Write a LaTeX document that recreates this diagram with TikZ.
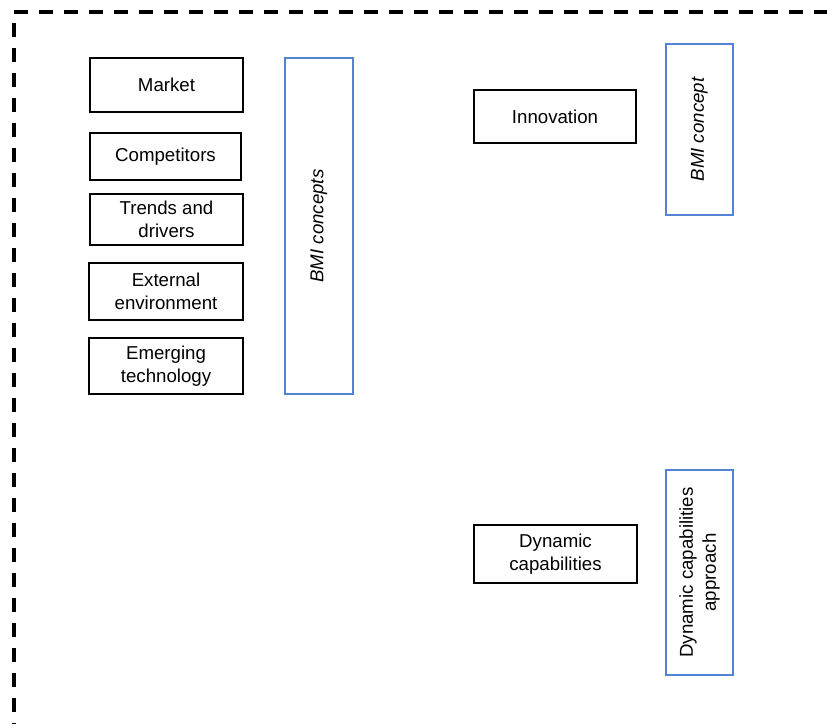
\documentclass[tikz,border=0pt]{standalone}
\usepackage{fontspec}
\setmainfont{Liberation Sans}
\usepackage{xcolor}
\usepackage{tikz}
\usetikzlibrary{positioning}

\definecolor{bmiblue}{RGB}{84,130,212}

\begin{document}
\begin{tikzpicture}[
    x=0.75pt, y=-0.75pt,
    box/.style={rectangle, draw, line width=1.5pt, align=center, inner sep=0pt, font=\fontsize{14}{17.3}\selectfont},
    concept/.style={rectangle, draw=bmiblue, line width=1.2pt, align=center, inner sep=0pt, font=\fontsize{14}{17.3}\selectfont},
    frame/.style={line width=2.3pt, dash pattern=on 10.5pt off 8.25pt}
]
\useasboundingbox (0,0) rectangle (827,724);

% left column
\node[box, minimum width=153*0.75pt, minimum height=54*0.75pt] (market) at (166.5,85) {Market};
\node[box, minimum width=151*0.75pt, minimum height=47*0.75pt] (competitors) at (165.5,156.5) {Competitors};
\node[box, minimum width=153*0.75pt, minimum height=51*0.75pt] (trends) at (166.5,219.5) {Trends and\\drivers};
\node[box, minimum width=154*0.75pt, minimum height=57*0.75pt] (environment) at (166,291.5) {External\\environment};
\node[box, minimum width=154*0.75pt, minimum height=56*0.75pt] (technology) at (166,366) {Emerging\\technology};
\node[concept, minimum width=68*0.75pt, minimum height=336*0.75pt] (bmiconcepts) at (319,226) {};
\node[rotate=90, font=\fontsize{14}{17.3}\selectfont\itshape] (bmiconceptslabel) at (bmiconcepts.center) {BMI concepts};

% right column
\node[box, minimum width=162*0.75pt, minimum height=53*0.75pt] (innovation) at (555,116.5) {Innovation};
\node[concept, minimum width=67*0.75pt, minimum height=171*0.75pt] (bmiconcept) at (699.5,129.5) {};
\node[rotate=90, font=\fontsize{14}{17.3}\selectfont\itshape] (bmiconceptlabel) at (bmiconcept.center) {BMI concept};

\node[box, minimum width=163*0.75pt, minimum height=58*0.75pt] (dyncap) at (555.5,554) {Dynamic\\capabilities};
\node[concept, minimum width=67*0.75pt, minimum height=205*0.75pt] (dcapproach) at (699.5,572.5) {};
\node[rotate=90, align=center, font=\fontsize{14}{17.3}\selectfont] (dcapproachlabel) at (dcapproach.center) {Dynamic capabilities\\approach};

% dashed frame, runs off the page
\coordinate (frameTL) at (14,12);
\coordinate (frameTR) at (827,12);
\coordinate (frameBL) at (14,724);
\draw[frame] (frameTL) -- (frameTR);
\draw[frame, dash phase=10.5pt] (frameTL) -- (frameBL);

\end{tikzpicture}
\end{document}
